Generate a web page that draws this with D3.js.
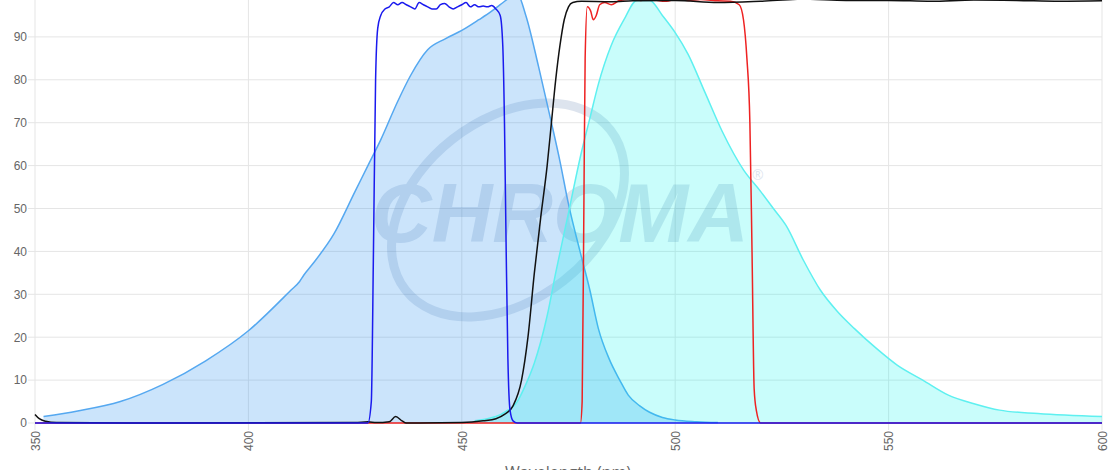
<!DOCTYPE html><html><head><meta charset="utf-8"><script src="https://cdn.jsdelivr.net/npm/d3@7"></script>
<style>body{margin:0;background:#fff}svg{font-family:"Open Sans",Arial,sans-serif}</style></head><body><svg id="c" width="1120" height="470"></svg>
<script>
const xTicks=[350,400,450,500,550,600];
const yTicks=[0,10,20,30,40,50,60,70,80,90];
const excitation=[[352,1.5],[360,2.8],[370,5],[380,9],[390,14.5],[400,21.5],[410,31],[412,33],[413,34.5],[415,37],[420,44],[425,54],[428,60],[431,66],[435,75],[438,81],[442,87],[446,89.5],[450,91.5],[454,94],[457,96],[459,97.5],[461,99],[463,100],[465,95],[468,83],[471,70],[473,61],[475,51],[477.7,40],[480,31],[482,22],[484.5,15],[487,10],[489,6.5],[491.7,4],[494,2.5],[497,1.3],[500,0.7],[505,0.3],[510,0.1]];
const emission=[[453,0.5],[456,1],[458,1.5],[460,2.5],[463,5],[465,9],[467,14],[470,25],[472,35],[475,49],[478,63],[480,71],[482,79],[485,88],[488,94],[491,98.5],[494,98.5],[497,95],[500,91],[503,86],[507,77],[511,68],[516,59],[520,54],[523,50],[526,46],[530,38],[534,31],[538,26],[542,22],[547,17.5],[552,13.5],[558,10],[564,6.5],[570,4.5],[576,3],[585,2.2],[600,1.5]];
const exciter=[[350,0],[428,0],[428.8,5],[429.3,40],[429.8,80],[430.3,92],[431,95],[432,96.5],[433,97],[434,98],[435,97.5],[436,98],[437,97.5],[438,97],[439,96.5],[440,98],[441,97.5],[442,97],[443,96.5],[444,96.5],[445,97.5],[446,97.8],[447,97],[448,96.5],[449,97],[450,97.5],[451,98],[452,97],[453,97.5],[454,97],[455,97.2],[456,97],[457,97.3],[458,96.5],[459,95],[459.6,88],[460,70],[460.4,40],[460.8,15],[461.3,3],[462,0.5],[463,0],[600,0]];
const dichroic=[[350,2],[351,1],[352.5,0.4],[355,0.1],[380,0],[425,0.1],[428,0.3],[430,0.1],[433,0.3],[434.5,1.5],[436,0.5],[437,0],[450,0.1],[455,0.5],[458,1],[460,2],[462,4],[464,10],[465.5,20],[467,35],[468.5,48],[470,60],[471,70],[472,80],[473,88],[474,94],[475,97],[476,98],[478,98.3],[485,98.2],[490,98.4],[500,98.5],[510,98],[520,98.3],[530,98.8],[540,98.5],[550,98.5],[560,98.3],[570,98.6],[580,98.5],[590,98.3],[600,98.4]];
const emitter=[[350,0],[477.8,0],[478.2,5],[478.6,50],[478.9,85],[479.4,97],[480.2,96],[480.8,94],[481.5,95],[482.3,97.5],[483.5,98],[485,97.5],[487,98.5],[490,98.8],[492,98.5],[494,99],[496,98.5],[498,98.3],[500,98.8],[503,98.5],[506,98.7],[510,98.4],[513,98.3],[515,97.5],[516,94],[516.8,85],[517.5,70],[518,40],[518.5,8],[519,3],[520,0],[600,0]];

const svg=d3.select("#c");
const x=d3.scaleLinear().domain([350,600]).range([35,1102]);
const y=d3.scaleLinear().domain([0,98.6]).range([423,0]);
const g=svg.append("g");
g.selectAll(".gx").data(xTicks).enter().append("line").attr("x1",d=>x(d)).attr("x2",d=>x(d)).attr("y1",0).attr("y2",430).attr("stroke","#e5e5e5");
g.selectAll(".gy").data(yTicks).enter().append("line").attr("x1",28).attr("x2",1102).attr("y1",d=>y(d)).attr("y2",d=>y(d)).attr("stroke","#e5e5e5");
const ya=svg.append("g").attr("transform","translate(35,0)").call(d3.axisLeft(y).tickValues(yTicks).tickSize(0).tickPadding(8));
ya.select(".domain").remove();ya.selectAll("text").attr("fill","#666").attr("font-size",12);
const xa=svg.append("g").attr("transform","translate(0,423)").call(d3.axisBottom(x).tickValues(xTicks).tickSize(0).tickPadding(8));
xa.select(".domain").remove();
xa.selectAll("text").attr("fill","#666").attr("font-size",12).attr("transform","rotate(-90)").attr("text-anchor","end").attr("dx","-8").attr("dy","0.35em").attr("y",0).attr("x",0);
svg.append("text").attr("x",568).attr("y",478).attr("text-anchor","middle").attr("fill","#666").attr("font-size",16).text("Wavelength (nm)");
// watermark
const wm=svg.append("g").attr("opacity",0.16);
wm.append("ellipse").attr("cx",508).attr("cy",210).attr("rx",130).attr("ry",90).attr("transform","rotate(-38 508 210)").attr("fill","none").attr("stroke","#335c99").attr("stroke-width",9);
wm.append("text").attr("x",560).attr("y",242).attr("text-anchor","middle").attr("font-size",84).attr("font-weight","bold").attr("font-style","italic").attr("fill","#335c99").attr("font-family","Liberation Sans, Arial").text("CHROMA");
wm.append("text").attr("x",752).attr("y",180).attr("font-size",14).attr("fill","#335c99").text("®");
const area=d3.area().x(d=>x(d[0])).y0(y(0)).y1(d=>y(d[1])).curve(d3.curveMonotoneX);
const line=d3.line().x(d=>x(d[0])).y(d=>y(d[1])).curve(d3.curveMonotoneX);
svg.append("path").datum(excitation).attr("d",area).attr("fill","rgba(54,150,240,0.26)");
svg.append("path").datum(excitation).attr("d",line).attr("fill","none").attr("stroke","#55a8f0").attr("stroke-width",1.5);
svg.append("path").datum(emission).attr("d",area).attr("fill","rgba(0,245,235,0.21)");
svg.append("path").datum(emission).attr("d",line).attr("fill","none").attr("stroke","#5ef0f0").attr("stroke-width",1.5);
svg.append("path").datum(emitter).attr("d",line).attr("fill","none").attr("stroke","#ee2222").attr("stroke-width",1.5);
svg.append("path").datum(dichroic).attr("d",line).attr("fill","none").attr("stroke","#111").attr("stroke-width",1.5);
svg.append("path").datum(exciter).attr("d",line).attr("fill","none").attr("stroke","#1a1aee").attr("stroke-width",1.5);
</script></body></html>
